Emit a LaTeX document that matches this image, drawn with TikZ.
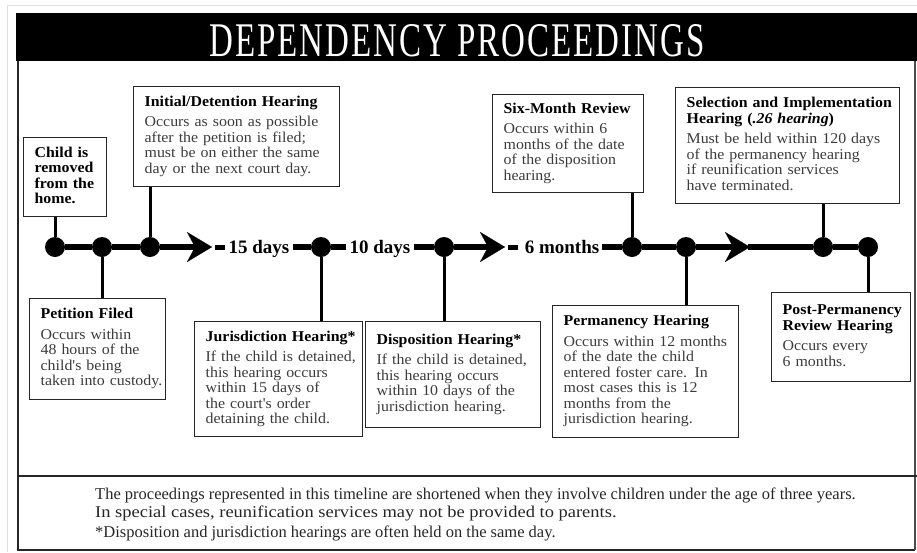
\documentclass[tikz,border=0pt]{standalone}
\usepackage{fontspec}
\setmainfont{Liberation Serif}
\newfontfamily\boxfont{Liberation Serif}[FakeStretch=1.06]
\newfontfamily\titlefont{Liberation Serif}[LetterSpace=6]
\usepackage{graphicx}
\usetikzlibrary{arrows.meta}
\definecolor{bodygray}{HTML}{3C3C3C}
\tikzset{
  tl/.style={line width=6.5pt},
  shortdash/.style={line width=5pt},
  dot/.style={circle, fill=black, minimum size=20pt, inner sep=0pt},
  stem/.style={line width=3pt},
  infobox/.style={draw=black!85, line width=1.3pt, fill=white, anchor=north west,
    align=left, inner xsep=11pt, inner ysep=4pt,
    font=\boxfont\fontsize{15}{15.5}\selectfont, text=bodygray},
  days/.style={font=\fontsize{19}{20}\selectfont\bfseries, inner xsep=3pt, inner ysep=0pt,
    text height=12.8pt, text depth=0pt},
  arr/.style={-{Stealth[length=25pt,width=30pt,inset=8pt,line width=0.1pt]}},
  frameline/.style={line width=2pt, draw=black!85},
  foot/.style={anchor=base west, inner sep=0pt, font=\fontsize{16.5}{17}\selectfont, text=black!85},
}
\newcommand{\hd}[1]{{\bfseries\color{black}#1}}
\newcommand{\boxlines}[1]{\begin{tabular}{@{}l@{}}#1\end{tabular}}
\begin{document}
\begin{tikzpicture}[x=1pt,y=-1pt]
\useasboundingbox (0,0) rectangle (917,552);
% screenshot border
\draw[black!12, line width=1pt] (7,552) -- (7,5) -- (917,5);
% title bar
\fill[black] (16,13) rectangle (917,61);
\node[text=white, inner sep=0pt] (title) at (457,41)
  {\resizebox{495pt}{32pt}{\titlefont DEPENDENCY PROCEEDINGS}};
% frame
\draw[frameline] (18,61) -- (18,550) -- (915,550);
\draw[line width=1.2pt, black!70] (915,61) -- (915,550);
\draw[frameline] (18,476) -- (917,476);

% timeline points
\node[dot] (d1) at (55,247) {};
\node[dot] (d2) at (102,247) {};
\node[dot] (d3) at (150,247) {};
\node[dot] (d4) at (321,247) {};
\node[dot] (d5) at (444,247) {};
\node[dot] (d6) at (632,247) {};
\node[dot] (d7) at (686,247) {};
\node[dot] (d8) at (823,247) {};
\node[dot] (d9) at (868,247) {};
\coordinate (a1) at (212,247);
\coordinate (a2) at (505,247);
\coordinate (a3) at (750,247);
\node[days] (t1) at (259,247) {15 days};
\node[days] (t2) at (380,247) {10 days};
\node[days] (t3) at (562,247) {6 months};

\draw[tl] (d1) -- (d2) -- (d3);
\draw[tl, arr] (d3) -- (a1);
\draw[shortdash] ([xshift=3pt]a1) -- (t1.west);
\draw[tl] (t1.east) -- (d4) -- (t2.west);
\draw[tl] (t2.east) -- (d5);
\draw[tl, arr] (d5) -- (a2);
\draw[shortdash] ([xshift=3pt]a2) -- ([xshift=-4pt]t3.west);
\draw[tl] (t3.east) -- (d6) -- (d7);
\draw[tl, arr] (d7) -- (a3);
\draw[tl] ([xshift=-2pt]a3) -- (d8) -- (d9);

% boxes
\node[infobox, text width=61pt, minimum height=79pt] (child) at (23,137)
  {\boxlines{\hd{Child is}\\\hd{removed}\\\hd{from the}\\\hd{home.}}};
\node[infobox, text width=184pt, minimum height=100pt] (initial) at (133,86)
  {\boxlines{\hd{Initial/Detention Hearing}\\[5pt]
   Occurs as soon as possible\\after the petition is filed;\\must be on either the same\\day or the next court day.}};
\node[infobox, text width=114pt, minimum height=101pt] (petition) at (29,298)
  {\boxlines{\hd{Petition Filed}\\[5pt]
   Occurs within\\48 hours of the\\child's being\\taken into custody.}};
\node[infobox, text width=146pt, minimum height=115pt] (juris) at (194,321)
  {\boxlines{\hd{Jurisdiction Hearing*}\\[5pt]
   If the child is detained,\\this hearing occurs\\within 15 days of\\the court's order\\detaining the child.}};
\node[infobox, text width=153pt, minimum height=106pt] (dispo) at (365,321)
  {\boxlines{\hd{Disposition Hearing*}\\[5pt]
   If the child is detained,\\this hearing occurs\\within 10 days of the\\jurisdiction hearing.}};
\node[infobox, text width=129pt, minimum height=98pt] (six) at (492,94)
  {\boxlines{\hd{Six-Month Review}\\[5pt]
   Occurs within 6\\months of the date\\of the disposition\\hearing.}};
\node[infobox, text width=202pt, minimum height=116pt] (select) at (675,87)
  {\boxlines{\hd{Selection and Implementation}\\\hd{Hearing (\textit{.26 hearing})}\\[5pt]
   Must be held within 120 days\\of the permanency hearing\\if reunification services\\have terminated.}};
\node[infobox, text width=164pt, minimum height=132pt] (perm) at (552,305)
  {\boxlines{\hd{Permanency Hearing}\\[5pt]
   Occurs within 12 months\\of the date the child\\entered foster care. In\\most cases this is 12\\months from the\\jurisdiction hearing.}};
\node[infobox, text width=117pt, minimum height=89pt] (post) at (771,292)
  {\boxlines{\hd{Post-Permanency}\\\hd{Review Hearing}\\[5pt]
   Occurs every\\6 months.}};

% stems
\draw[stem] (d1 |- child.south) -- (d1);
\draw[stem] (d3 |- initial.south) -- (d3);
\draw[stem] (d2) -- (d2 |- petition.north);
\draw[stem] (d4) -- (d4 |- juris.north);
\draw[stem] (d5) -- (d5 |- dispo.north);
\draw[stem] (d6 |- six.south) -- (d6);
\draw[stem] (d7) -- (d7 |- perm.north);
\draw[stem] (d8 |- select.south) -- (d8);
\draw[stem] (d9) -- (d9 |- post.north);

% footer
\node[foot] (f1) at (95,499)
  {The proceedings represented in this timeline are shortened when they involve children under the age of three years.};
\node[foot] (f2) at (95,517)
  {\scalebox{1.12}[1]{In special cases, reunification services may not be provided to parents.}};
\node[foot] (f3) at (95,537)
  {*Disposition and jurisdiction hearings are often held on the same day.};
\end{tikzpicture}
\end{document}
